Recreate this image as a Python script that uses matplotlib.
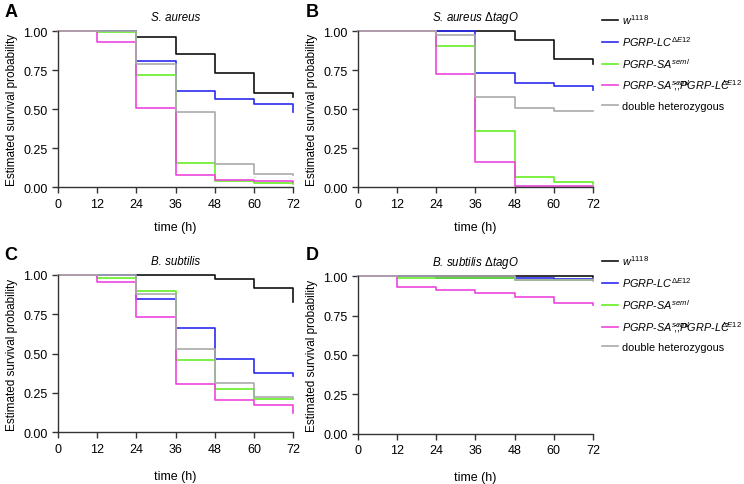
import matplotlib
matplotlib.use('Agg')
import matplotlib.pyplot as plt

plt.rcParams['font.family'] = ['Liberation Sans', 'DejaVu Sans']
plt.rcParams['mathtext.fontset'] = 'custom'
plt.rcParams['mathtext.it'] = 'Liberation Sans:italic'
plt.rcParams['mathtext.rm'] = 'Liberation Sans'

# time points (h)
TIMES = [0, 12, 24, 36, 48, 60, 72]

LABELS = [r'$\it{w}^{1118}$',
          r'$\it{PGRP}$-$\it{LC}^{\Delta E12}$',
          r'$\it{PGRP}$-$\it{SA}^{seml}$',
          r'$\it{PGRP}$-$\it{SA}^{seml}\hspace{-1.6}$;;$\it{PGRP}$-$\it{LC}^{\hspace{-1.1}\Delta E12}$',
          'double heterozygous']
COLORS = ['#111111', '#2b2bf0', '#66ee22', '#ee44dd', '#aaaaaa']

# survival values per panel, one list per genotype (same order as LABELS)
s_aureus = [
    [1.00, 1.00, 0.96, 0.855, 0.73, 0.605, 0.58],
    [1.00, 1.00, 0.81, 0.613, 0.564, 0.53, 0.48],
    [1.00, 0.995, 0.72, 0.155, 0.04, 0.026, 0.02],
    [1.00, 0.93, 0.505, 0.08, 0.047, 0.038, 0.035],
    [1.00, 1.00, 0.79, 0.48, 0.15, 0.085, 0.075],
]
s_aureus_tago = [
    [1.00, 1.00, 1.00, 1.00, 0.94, 0.82, 0.79],
    [1.00, 1.00, 1.00, 0.73, 0.664, 0.645, 0.62],
    [1.00, 1.00, 0.904, 0.357, 0.068, 0.03, 0.02],
    [1.00, 1.00, 0.726, 0.162, 0.01, 0.01, 0.01],
    [1.00, 1.00, 0.972, 0.58, 0.51, 0.485, 0.485],
]
b_subtilis = [
    [1.00, 1.00, 1.00, 1.00, 0.974, 0.915, 0.83],
    [1.00, 1.00, 0.847, 0.662, 0.468, 0.379, 0.355],
    [1.00, 0.979, 0.896, 0.462, 0.272, 0.213, 0.21],
    [1.00, 0.957, 0.73, 0.309, 0.204, 0.172, 0.12],
    [1.00, 1.00, 0.877, 0.526, 0.31, 0.221, 0.215],
]
b_subtilis_tago = [
    [1.00, 1.00, 1.00, 1.00, 1.00, 1.00, 0.995],
    [1.00, 1.00, 0.99, 0.99, 0.99, 0.985, 0.98],
    [1.00, 0.99, 0.99, 0.99, 0.977, 0.977, 0.975],
    [1.00, 0.93, 0.913, 0.894, 0.869, 0.833, 0.82],
    [1.00, 1.00, 1.00, 1.00, 0.98, 0.975, 0.972],
]

PANELS = [('A', 'S. aureus', s_aureus),
          ('B', r'S. aureus $\Delta$tagO', s_aureus_tago),
          ('C', 'B. subtilis', b_subtilis),
          ('D', r'B. subtilis $\Delta$tagO', b_subtilis_tago)]

fig = plt.figure(figsize=(7.44, 4.85), dpi=100)

boxes = [(0.078, 0.612, 0.316, 0.322),
         (0.481, 0.612, 0.316, 0.322),
         (0.078, 0.107, 0.316, 0.324),
         (0.481, 0.104, 0.316, 0.324)]
letter_pos = [(0.006, 0.992), (0.411, 0.992), (0.006, 0.491), (0.411, 0.491)]
legend_y = {1: 1.15, 3: 1.175}

for i, (letter, title, data) in enumerate(PANELS):
    ax = fig.add_axes(boxes[i])
    for vals, col, lab in zip(data, COLORS, LABELS):
        ax.step(TIMES, vals, where='post', color=col, lw=1.2, label=lab, clip_on=False)
    ax.set_xlim(0, 72)
    ax.set_ylim(0, 1)
    ax.set_xticks(TIMES)
    ax.set_yticks([0, 0.25, 0.5, 0.75, 1.0])
    ax.set_yticklabels(['0.00', '0.25', '0.50', '0.75', '1.00'])
    for s in ['top', 'right']:
        ax.spines[s].set_visible(False)
    for s in ['left', 'bottom']:
        ax.spines[s].set_linewidth(1.0)
        ax.spines[s].set_color('#333333')
    ax.tick_params(direction='out', length=4, width=1.0, labelsize=9, colors='#333333',
                   labelcolor='black')
    ax.set_ylabel('Estimated survival probability', fontsize=8.5)
    ax.set_xlabel('time (h)', fontsize=9, labelpad=8 if i < 2 else 11)
    ax.set_title(title, fontsize=8.3, style='italic', pad=8)
    fig.text(letter_pos[i][0], letter_pos[i][1], letter, fontsize=13, fontweight='bold',
             va='top', ha='left')
    if i % 2 == 1:
        ax.legend(loc='upper left', bbox_to_anchor=(1.02, legend_y[i]), frameon=False,
                  handlelength=1.5, handletextpad=0.35, labelspacing=0.75,
                  borderaxespad=0.0, fontsize=7.8)

fig.savefig('out.png', dpi=100)
